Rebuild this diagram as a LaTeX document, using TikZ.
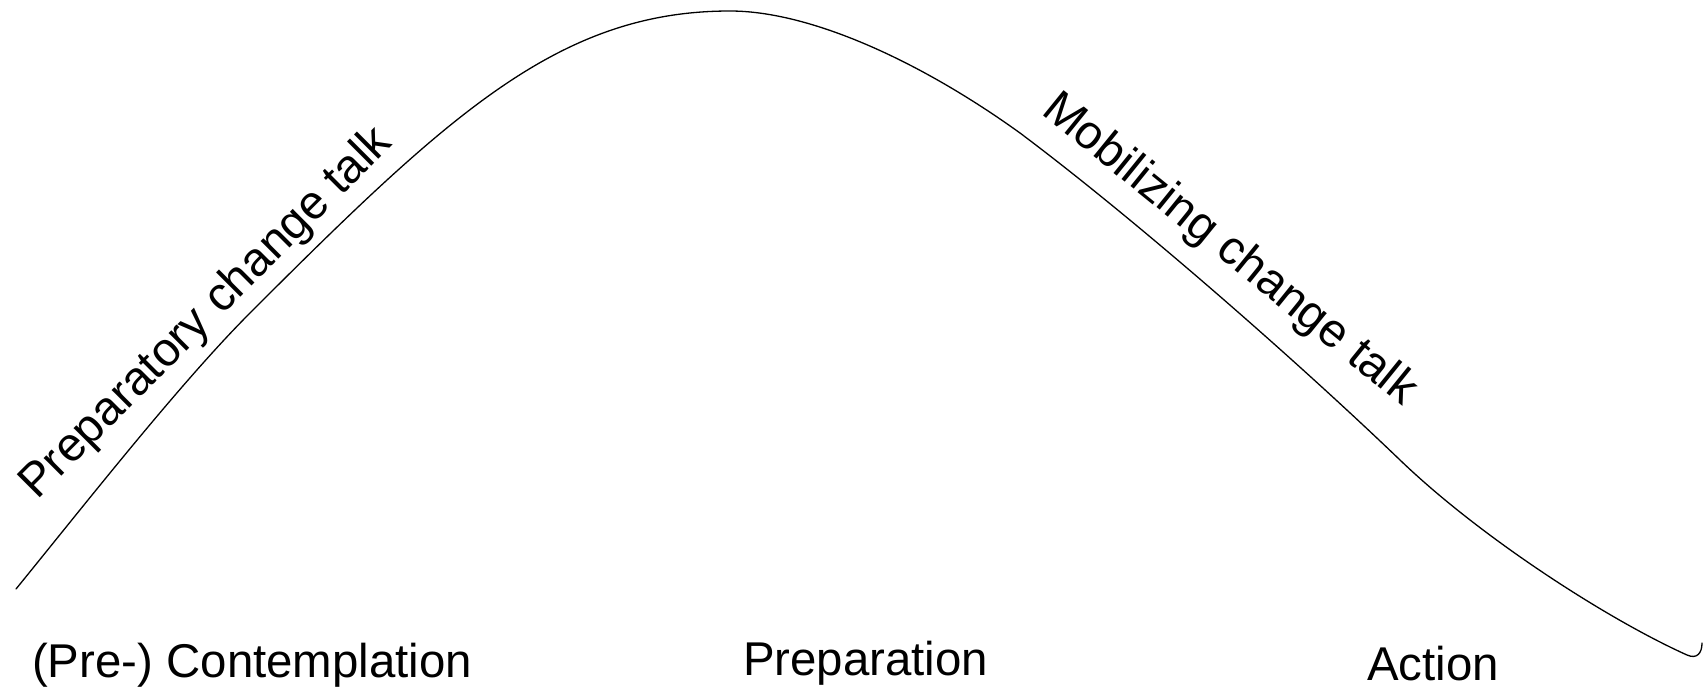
\documentclass[tikz,border=0pt]{standalone}
\usepackage{fontspec}
\setmainfont{Liberation Sans}
\usepackage{tikz}
\tikzstyle{StageText}=[anchor=base west,inner sep=0pt,
font=\fontsize{47.4}{57}\selectfont]
\tikzstyle{TalkText}=[StageText]
\tikzstyle{HillCurve}=[black,line width=1.3pt,line cap=round,line join=round]

\begin{document}
\begin{tikzpicture}[x=1pt,y=-1pt]
        \useasboundingbox (0,0) rectangle (1707,688);
        \coordinate(start)at(16,589);
        \coordinate(top)at(730,11);
        \coordinate(low)at(1687,655);
        \draw[HillCurve](start)
            .. controls (86,503) and (180,383) .. (250,313)
            .. controls (450,113) and (560,11) .. (top)
            .. controls (810,11) and (920,61) .. (1020,133)
            .. controls (1140,223) and (1300,364) .. (1400,460)
            .. controls (1480,537) and (1607,619) .. (low)
            .. controls (1697,659.5) and (1702,653) .. (1702,643);
        \node[TalkText,rotate=45](ptalk)at(37.5,500.5){Preparatory change talk};
        \node[TalkText,rotate=-39](mtalk)at(1040,113){Mobilizing change talk};
        \node[StageText](pre)at(32,677){(Pre-) Contemplation};
        \node[StageText](prep)at(743,675){Preparation};
        \node[StageText](act)at(1367,680){Action};
    \end{tikzpicture}
\end{document}
